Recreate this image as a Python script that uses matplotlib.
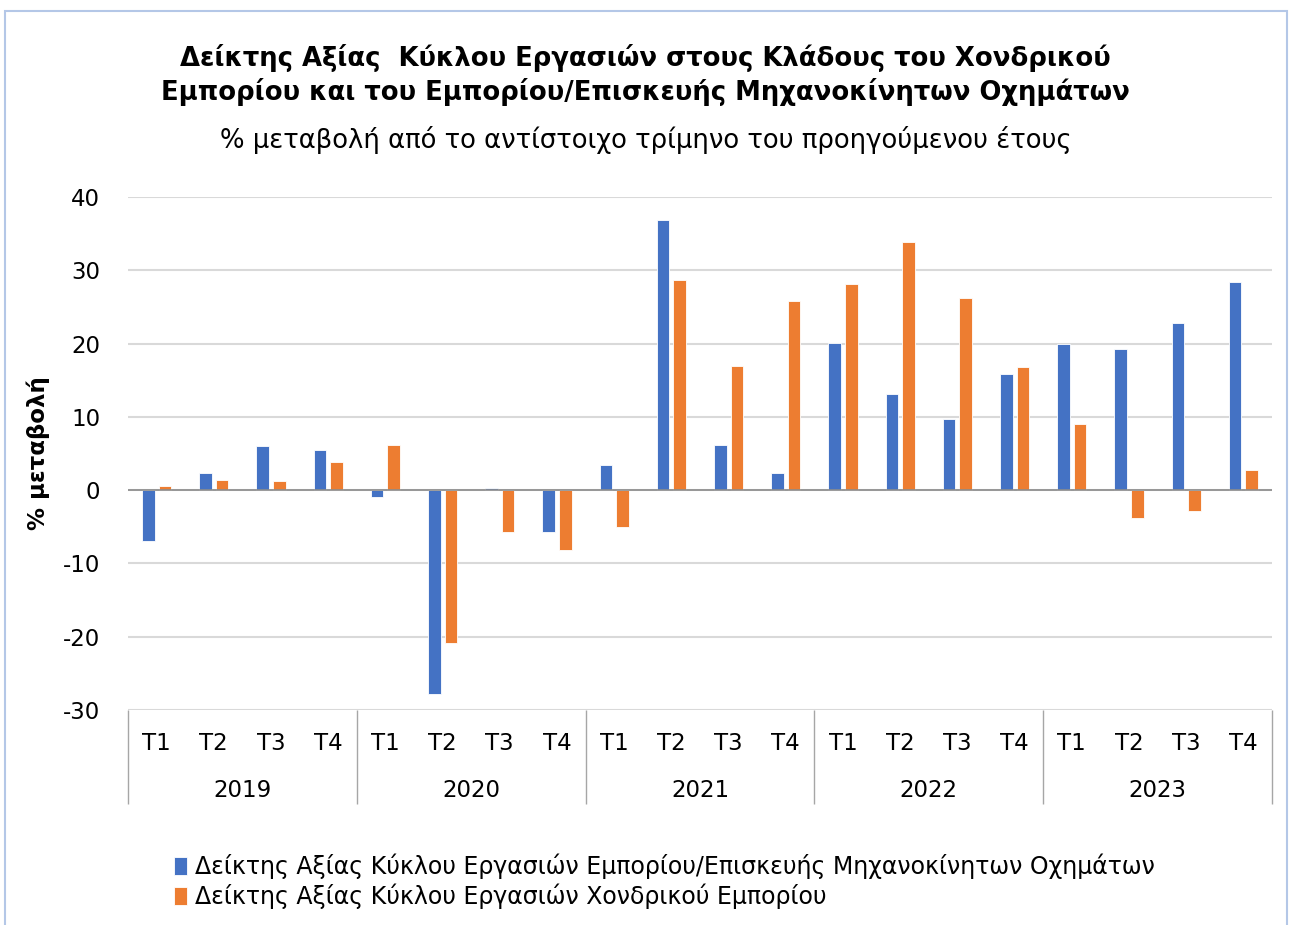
import numpy as np
import matplotlib.pyplot as plt
from matplotlib.patches import Rectangle

years = ["2019", "2020", "2021", "2022", "2023"]
quarters = ["T1", "T2", "T3", "T4"]

# Εμπόριο/Επισκευή Μηχανοκίνητων Οχημάτων
motor = [-6.9, 2.3, 6.0, 5.45,
         -0.9, -27.8, 0.3, -5.7,
         3.4, 36.8, 6.2, 2.3,
         20.1, 13.1, 9.75, 15.9,
         19.9, 19.2, 22.75, 28.4]
# Χονδρικό Εμπόριο
wholesale = [0.55, 1.45, 1.25, 3.9,
             6.2, -20.8, -5.7, -8.1,
             -5.0, 28.7, 17.0, 25.8,
             28.2, 33.8, 26.2, 16.8,
             9.0, -3.8, -2.9, 2.7]

labels = ["Δείκτης Αξίας Κύκλου Εργασιών Εμπορίου/Επισκευής Μηχανοκίνητων Οχημάτων",
          "Δείκτης Αξίας Κύκλου Εργασιών Χονδρικού Εμπορίου"]

plt.rcParams['font.family'] = ['DejaVu Sans']
plt.rcParams['axes.unicode_minus'] = False

fig = plt.figure(figsize=(12.91, 9.25), dpi=100)
ax = fig.add_axes([0.0991, 0.2324, 0.8862, 0.5546])

n = len(motor)
x = np.arange(n)
w = 0.22
off = 0.145
ax.bar(x - off, motor, w, color="#4472C4", edgecolor="white", linewidth=0.6, label=labels[0], zorder=3)
ax.bar(x + off, wholesale, w, color="#ED7D31", edgecolor="white", linewidth=0.6, label=labels[1], zorder=3)

ax.set_xlim(-0.5, n - 0.5)
ax.set_ylim(-30, 40)
ax.set_yticks(np.arange(-30, 41, 10))
ax.grid(axis="y", color="#D9D9D9", linewidth=1.5, zorder=0)
ax.axhline(0, color="#8C8C8C", linewidth=1.2, zorder=4)
for s in ax.spines.values():
    s.set_visible(False)

ax.tick_params(axis="y", length=0, labelsize=16.5, pad=20)
ax.set_xticks(x)
ax.set_xticklabels(quarters * len(years))
ax.tick_params(axis="x", length=0, labelsize=16.5, pad=16)

# separators of the year groups
sep = ax.secondary_xaxis("bottom")
sep.set_xticks(np.arange(-0.5, n, 4))
sep.set_xticklabels([])
sep.tick_params(length=68, width=1, color="#A6A6A6")
sep.spines["bottom"].set_visible(False)

# year labels
yr = ax.secondary_xaxis("bottom")
yr.set_xticks(np.arange(1.5, n, 4))
yr.set_xticklabels(years)
yr.tick_params(length=0, labelsize=16.5, pad=50)
yr.spines["bottom"].set_visible(False)

ax.set_ylabel("% μεταβολή", fontsize=16.5, fontweight="bold")
ax.yaxis.set_label_coords(-0.068, 0.5)

fig.text(0.5, 0.919, "Δείκτης Αξίας  Κύκλου Εργασιών στους Κλάδους του Χονδρικού\nΕμπορίου και του Εμπορίου/Επισκευής Μηχανοκίνητων Οχημάτων",
         ha="center", va="center", fontsize=18.6, fontweight="bold", linespacing=1.3)
fig.text(0.5, 0.849, "% μεταβολή από το αντίστοιχο τρίμηνο του προηγούμενου έτους",
         ha="center", va="center", fontsize=18.6)

fig.legend(loc="upper left", bbox_to_anchor=(0.126, 0.09), bbox_transform=fig.transFigure,
           frameon=False, fontsize=17, handlelength=0.55, handleheight=0.8, handletextpad=0.3,
           labelspacing=0.2, borderpad=0)

fig.patches.append(Rectangle((0.004, -0.01), 0.993, 0.998, transform=fig.transFigure,
                             fill=False, edgecolor="#B4C7E7", linewidth=1.5))

fig.savefig("out.png", dpi=100)
